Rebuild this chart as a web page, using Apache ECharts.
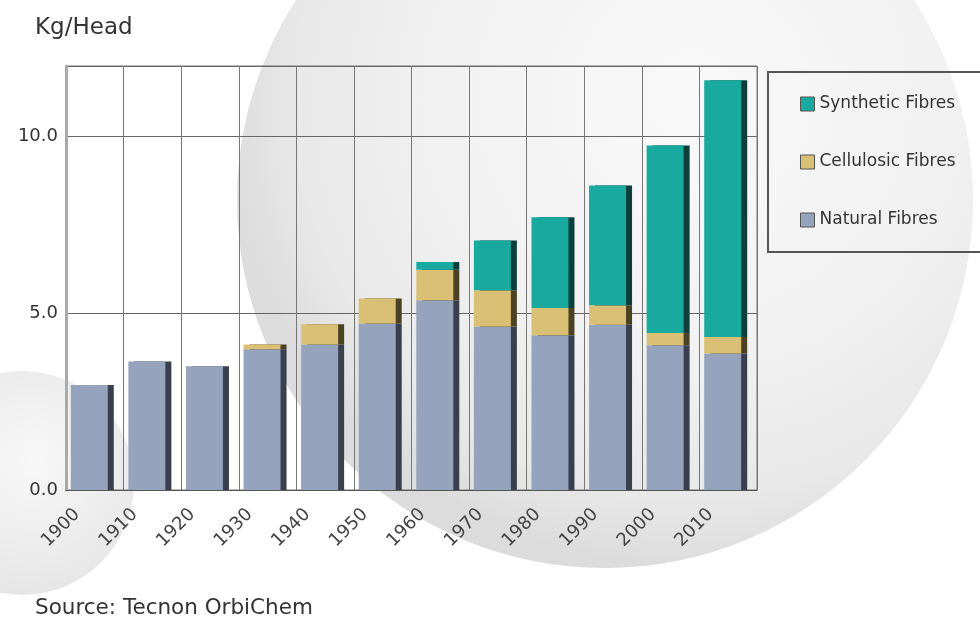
<!DOCTYPE html>
<html>
<head>
<meta charset="utf-8">
<script src="https://cdn.jsdelivr.net/npm/echarts@6/dist/echarts.min.js"></script>
<style>
  html, body { margin: 0; padding: 0; background: #ffffff; }
  #chart { width: 980px; height: 618px; }
</style>
</head>
<body>
<div id="chart"></div>
<script>
// ---- data ----
const categories = ['1900','1910','1920','1930','1940','1950','1960','1970','1980','1990','2000','2010'];
const naturalFibres    = [2.97, 3.64, 3.50, 3.98, 4.12, 4.71, 5.37, 4.63, 4.38, 4.68, 4.10, 3.86];
const cellulosicFibres = [0, 0, 0, 0.14, 0.57, 0.71, 0.86, 1.02, 0.77, 0.55, 0.34, 0.47];
const syntheticFibres  = [0, 0, 0, 0, 0, 0, 0.22, 1.41, 2.57, 3.39, 5.31, 7.27];
const yTicks = [0, 5, 10];
// invisible layout-only column that shifts the real bars slightly left in each category
const layoutSpacer = [0, 0, 0, 0, 0, 0, 0, 0, 0, 0, 0, 0];

const FONT = '"DejaVu Sans", sans-serif';
const chart = echarts.init(document.getElementById('chart'), null, { renderer: 'canvas' });

function seg(name, data, fill, shade) {
  return {
    name: name,
    type: 'bar',
    stack: 'fibres',
    barWidth: 37,
    barGap: '0%',
    data: data,
    itemStyle: {
      color: fill,
      borderWidth: 0,
      shadowColor: shade,
      shadowOffsetX: 6,
      shadowOffsetY: 0,
      shadowBlur: 0
    },
    emphasis: { disabled: true }
  };
}

const option = {
  backgroundColor: '#ffffff',
  animation: false,
  title: [
    { text: 'Kg/Head', left: 30, top: 12,
      textStyle: { fontFamily: FONT, fontSize: 23, fontWeight: 'normal', color: '#333' } },
    { text: 'Source: Tecnon OrbiChem', left: 30, top: 592,
      textStyle: { fontFamily: FONT, fontSize: 21.5, fontWeight: 'normal', color: '#333' } }
  ],
  graphic: [
    { type: 'circle', z: -10, silent: true,
      shape: { cx: 605, cy: 200, r: 368 },
      style: { fill: { type: 'radial', x: 0.62, y: 0.36, r: 0.64,
        colorStops: [ { offset: 0, color: '#f9f9f9' }, { offset: 0.55, color: '#f1f1f1' }, { offset: 0.85, color: '#e8e8e8' }, { offset: 1, color: '#dcdcdc' } ] } } },
    { type: 'circle', z: -10, silent: true,
      shape: { cx: 22, cy: 483, r: 112 },
      style: { fill: { type: 'radial', x: 0.55, y: 0.4, r: 0.6,
        colorStops: [ { offset: 0, color: '#f8f8f8' }, { offset: 1, color: '#e6e6e6' } ] } } }
  ],
  legend: {
    orient: 'vertical',
    left: 768,
    top: 72,
    padding: [22, 40, 22, 32],
    itemGap: 38,
    itemWidth: 14,
    itemHeight: 14,
    borderColor: '#555',
    borderWidth: 2,
    itemStyle: { borderColor: '#555', borderWidth: 1, shadowBlur: 0, shadowOffsetX: 0, shadowColor: 'rgba(0,0,0,0)' },
    data: [
      { name: 'Synthetic Fibres', icon: 'rect' },
      { name: 'Cellulosic Fibres', icon: 'rect' },
      { name: 'Natural Fibres', icon: 'rect' }
    ],
    textStyle: { fontFamily: FONT, fontSize: 17, color: '#333', lineHeight: 20 }
  },
  grid: {
    left: 66, right: 223, top: 66, bottom: 128,
    show: true,
    borderColor: '#777',
    borderWidth: 1,
    backgroundColor: 'rgba(255,255,255,0)'
  },
  xAxis: {
    type: 'category',
    data: categories,
    boundaryGap: true,
    axisLine: { show: true, lineStyle: { color: '#555', width: 1 } },
    axisTick: { show: false },
    splitLine: { show: true, lineStyle: { color: '#777', width: 1 } },
    axisLabel: {
      interval: 0,
      rotate: 45,
      margin: 4,
      fontFamily: FONT,
      fontSize: 18,
      color: '#444',
      formatter: function (v) { return '{a|' + v + '}'; },
      rich: { a: { fontFamily: FONT, fontSize: 18, color: '#444', padding: [0, 25, 0, 0] } }
    }
  },
  yAxis: {
    type: 'value',
    min: 0,
    max: 12,
    interval: 5,
    axisLine: { show: true, lineStyle: { color: '#aaa', width: 3 } },
    axisTick: { show: false },
    splitLine: { show: true, lineStyle: { color: '#666', width: 1 } },
    axisLabel: {
      margin: 8,
      fontFamily: FONT,
      fontSize: 18,
      color: '#333',
      showMaxLabel: false,
      formatter: function (v) { return yTicks.indexOf(v) >= 0 ? v.toFixed(1) : ''; }
    }
  },
  series: [
    seg('Natural Fibres', naturalFibres, '#96a3bd', '#393f4c'),
    seg('Cellulosic Fibres', cellulosicFibres, '#d9c074', '#4b4123'),
    seg('Synthetic Fibres', syntheticFibres, '#18aa9e', '#0c3f3b'),
    {
      name: 'spacer',
      type: 'bar',
      stack: 'spacer',
      barWidth: 11,
      barGap: '0%',
      data: layoutSpacer,
      silent: true,
      itemStyle: { color: 'rgba(0,0,0,0)' }
    }
  ]
};
chart.setOption(option);
</script>
</body>
</html>
